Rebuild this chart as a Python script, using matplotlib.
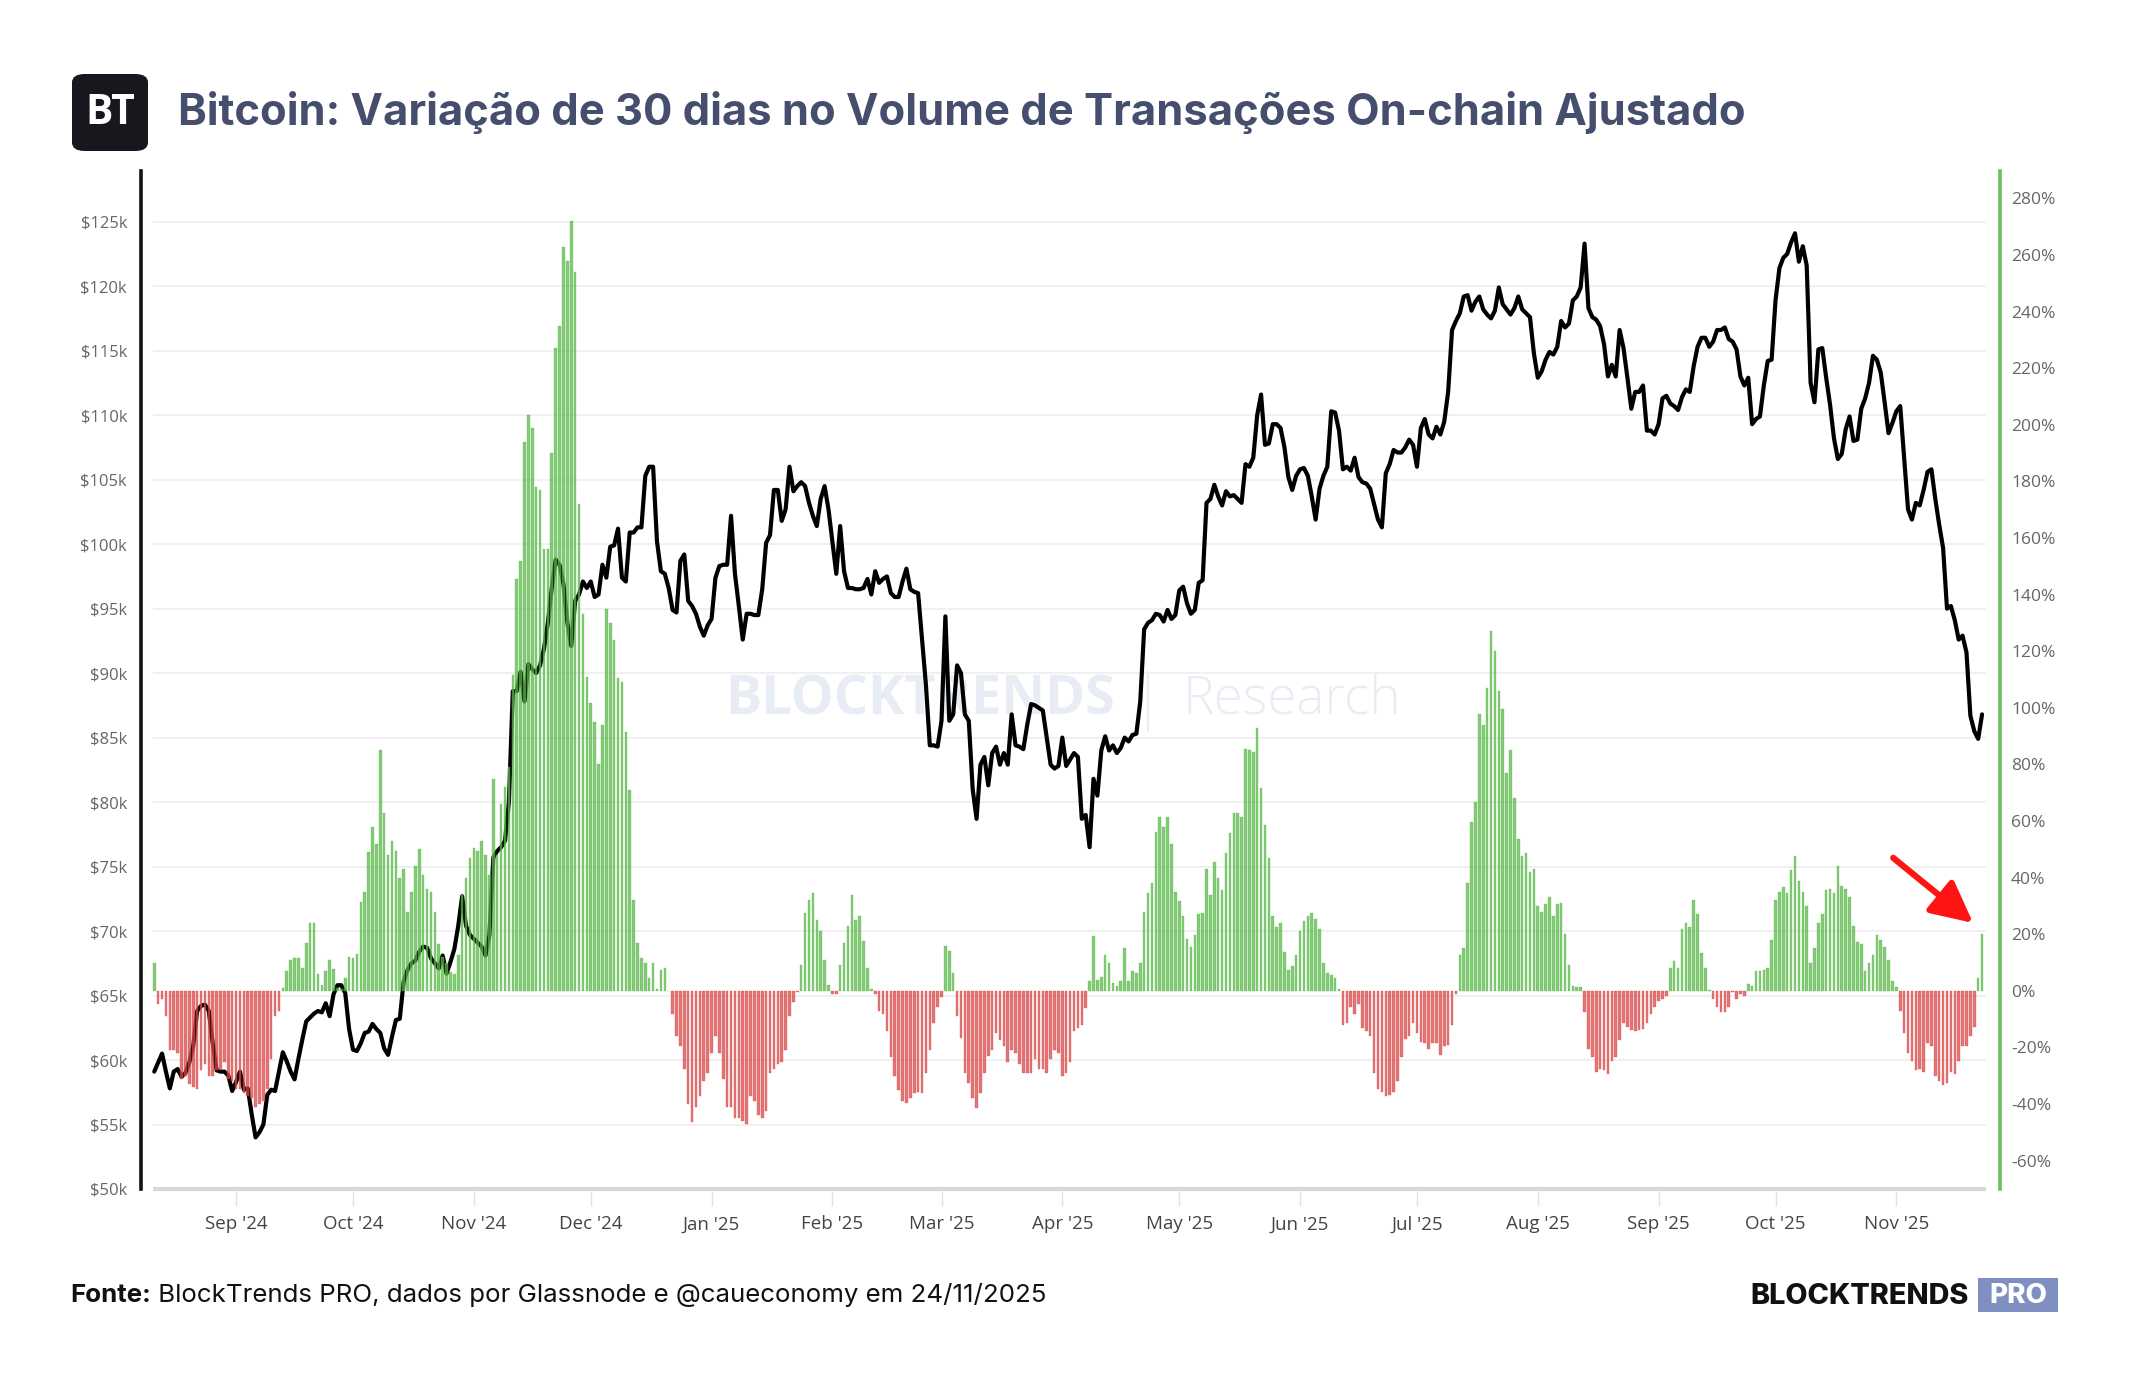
import numpy as np
import pandas as pd
import matplotlib
matplotlib.use("Agg")
import matplotlib.pyplot as plt
import matplotlib.dates as mdates
from matplotlib.patches import FancyBboxPatch, Rectangle
from matplotlib.ticker import FuncFormatter

# ---------------- data (daily, starting 2024-08-11) ----------------
START_DATE = "2024-08-11"

change_pct = [
    10,
    -4.6, -3, -9, -21, -21, -22, -31, -30, -33, -34, -34.5, -28, -26, -30, -30, -28, -28, -25, -31, -32,
    -34.5, -34.5, -36, -37, -38, -41, -40, -39, -34.5, -24, -9, -7,
    1, 7, 11, 11.5, 11.5, 8, 17, 24, 24, 6, 2, 7, 11, 7.6, 1, 0.5, 4.6, 12, 11.5, 13, 31.5, 35, 49, 58, 52,
    85, 63, 48, 53, 49.5, 40, 43, 28, 35, 44, 50, 41, 36, 35, 28, 16.5, 12, 10, 6.5,
    6, 12.6, 34, 40, 47, 50.6, 49.5, 53, 48, 41, 75, 48, 66, 72, 79, 111.5, 145.6, 152, 194, 203.5,
    199, 178, 177, 156, 156, 190, 227, 235, 263, 258, 272, 254, 172, 133, 111, 101.7, 95, 80, 94, 135,
    130, 124, 110.6, 109, 91.5, 71, 32, 17, 11.5, 9.7, 4.6, 9.7, 0.5, 7.4, 8, 0, -8, -16, -19.6, -27.6,
    -40, -46.5, -41, -37, -32, -29, -22, -16, -22, -31, -41, -41, -45, -45, -46, -47, -37, -39, -44,
    -45, -42.5, -29, -27.6, -26, -25, -21, -9, -4, -0.5, 9, 27.6, 32, 34.5, 25, 21, 11, 2, -1, -1,
    9, 17, 23, 34, 25, 26.5, 17.7, 8, 0.5, -1, -7, -8, -14, -23.5, -30, -35, -39, -39.6, -38, -36,
    -35.7, -36, -29, -21, -11.5, -5.8, -2.3, 16, 14, 6.4, -9, -16.6, -29, -32.7, -38, -41.4, -36, -29, -23, -21,
    -15, -17.3, -19.6, -25, -21, -22, -26, -29, -29, -29, -24, -27.6, -27.6, -29, -24, -21, -22, -30, -29, -25,
    -14, -13, -12, -6, 3.5, 19.5, 4, 5, 12.6, 9.7, 2.8, 1.8, 3.5, 15, 3.5, 7, 6.2, 9.7, 28, 34.5,
    38, 56, 61.6, 58, 61.4, 52, 35, 31.7, 26.5, 18.4, 15.6, 19.6, 27, 27.6, 43, 34, 45.5, 40, 35.7, 48.8,
    55.7, 63, 63, 61.4, 85.6, 85, 84.4, 93, 71.8, 58.7, 47, 26.5, 22.5, 24, 13.8, 7.4, 8.7, 12.6, 21, 24.8,
    26.5, 27.6, 25.3, 21.8, 9.7, 6.2, 5.5, 4.6, 0.5, -12, -11.5, -5.8, -8, -4.6, -13, -14, -16, -29, -34.5, -35.7,
    -37, -36.8, -35.7, -32, -23.5, -17, -16, -11.5, -15, -18, -18.4, -20.7, -18.4, -18.4, -22.5, -19.6, -19, -12,
    -1,
    12.6, 15, 38, 59.8, 66.7, 98, 94, 107, 127, 120, 105.8, 99.6, 77, 85, 68, 53.6, 47.6, 48.8, 42, 43,
    30, 28, 30.6, 33, 26.5, 30.6, 31, 20, 9.2, 1.8, 1.4, 1.2,
    -7.4, -20.7, -23.5, -28.8, -27.6, -28, -29.4, -24.8, -23.5, -17.3, -11.5, -12.6, -13.8, -14.3, -13.8,
    -13.3, -11.5, -8, -5.8, -3.5, -2.8, -1.8,
    8, 10.4, 8, 21.9, 24, 22.5,
    32, 27, 13.3, 8, 0.3, -2.8, -5.8, -7.6, -7.4, -5.8, -0.5, -2.8, -1.2, -1.8, 2.3, 1.8, 7, 7, 7.4, 8,
    18, 32, 35, 36.8, 34.5, 42.6, 47.8, 39, 35, 30, 10, 15, 24, 27, 35.7, 36, 34.5, 44, 37, 36,
    33, 23, 17.3, 16.6, 7, 9.7, 12.6, 19.6, 18, 15.6, 11, 3.5, 1.2,
    -7, -15, -21.9, -24.8, -28, -27.6, -28.8, -18.4, -19.6, -30, -32, -33.4, -32.7, -28.8, -29.4,
    -24.8, -19.6, -19.6, -16, -12.6, 4.6, 20,
]

price_k = [
    59.1, 59.8, 60.5, 59.1, 57.8, 59.1, 59.3, 58.7, 59.0, 59.8, 61.1, 63.8, 64.2, 64.3, 63.8, 61.3, 59.2, 59.1, 59.1, 58.8,
    57.6, 58.3, 59.1, 57.7, 57.8, 55.8, 54.0, 54.4, 55.0, 57.3, 57.7, 57.6, 59.1, 60.6, 59.9, 59.1, 58.5, 60.1, 61.6, 63.0,
    63.3, 63.6, 63.8, 63.7, 64.4, 63.4, 65.1, 65.8, 65.8, 65.2, 62.4, 60.8, 60.7, 61.3, 62.1, 62.2, 62.8, 62.4, 62.1, 60.9,
    60.4, 61.8, 63.1, 63.2, 66.1, 67.0, 67.5, 67.7, 68.4, 68.8, 68.7, 67.9, 67.5, 67.1, 68.1, 66.7, 67.6,
    68.6, 70.4, 72.7, 70.4, 69.7, 69.4, 69.1, 68.8, 68.1, 69.7, 75.7, 76.2, 76.5, 77.0, 80.0, 88.6, 88.6, 90.1, 87.8, 90.7,
    90.3, 90.0, 90.6, 91.9, 93.9, 96.6, 98.8, 98.4, 96.9, 93.9, 92.1, 95.6, 96.1, 97.1, 96.6, 97.1, 95.9, 96.1, 98.4, 97.4,
    99.8, 99.9, 101.2, 97.4, 97.1, 100.9, 100.9, 101.3, 101.3, 105.3, 106.0, 106.0, 100.2, 97.9, 97.7, 96.6, 94.9, 94.7, 98.7, 99.2,
    95.6, 95.2, 94.6, 93.6, 92.9, 93.7, 94.2, 97.4, 98.3, 98.4, 98.4, 102.2, 97.7, 95.2, 92.6, 94.6, 94.6, 94.5, 94.5,
    96.5, 100.1, 100.7, 104.2, 104.2, 101.8, 102.7, 106.0, 104.1, 104.5, 104.8, 104.5, 103.2, 102.2, 101.4, 103.5, 104.5, 102.7, 100.2, 97.7,
    101.4, 97.9, 96.6, 96.6, 96.5, 96.5, 96.6, 97.3, 96.1, 97.9, 97.0, 97.3, 97.5, 96.2, 95.9, 95.9, 97.1, 98.1, 96.5, 96.3,
    96.2, 92.6, 89.1, 84.4, 84.4, 84.3, 86.3, 94.4, 86.3, 86.8, 90.6, 90.0, 86.8, 86.3, 81.0, 78.7, 82.9, 83.5, 81.3, 83.8,
    84.3, 82.9, 83.8, 82.9, 86.8, 84.4, 84.3, 84.1, 86.0, 87.6, 87.5, 87.3, 87.1, 85.0, 82.9, 82.6, 82.8, 85.0, 82.8, 83.3,
    83.8, 83.5, 78.7, 79.0, 76.5, 81.8, 80.5, 84.0, 85.1, 84.0, 84.4, 83.8, 84.2, 85.0, 84.7, 85.2, 85.3, 87.8, 93.4, 93.9,
    94.1, 94.6, 94.5, 94.0, 94.9, 94.2, 94.5, 96.4, 96.7, 95.4, 94.6, 94.9, 97.0, 97.2, 103.2, 103.5, 104.6, 103.7, 103.0, 104.1,
    103.7, 103.8, 103.5, 103.2, 106.2, 106.0, 106.7, 110.0, 111.6, 107.7, 107.8, 109.3, 109.3, 109.0, 107.5, 105.2, 104.2, 105.3, 105.8, 105.9,
    105.3, 103.7, 101.9, 104.3, 105.3, 106.0, 110.3, 110.2, 108.8, 105.8, 106.0, 105.7, 106.7, 105.2, 104.8, 104.7, 104.3, 103.1, 101.9, 101.3,
    105.5, 106.2, 107.3, 107.1, 107.1, 107.5, 108.1, 107.7, 106.0, 109.0, 109.7, 108.5, 108.2, 109.1, 108.5, 109.5, 111.8, 116.6, 117.3, 117.9,
    119.2, 119.3, 118.1, 118.8, 119.2, 118.2, 117.8, 117.5, 118.1, 119.9, 118.6, 118.2, 117.8, 118.3, 119.2, 118.2, 117.9, 117.6, 114.8, 112.9,
    113.4, 114.3, 114.9, 114.7, 115.3, 117.3, 116.8, 117.1, 118.9, 119.2, 119.9, 123.3, 118.3, 117.6, 117.4, 116.9, 115.5, 113.0, 113.9, 113.0,
    116.6, 115.2, 112.9, 110.5, 111.8, 111.8, 112.3, 108.8, 108.8, 108.5, 109.3, 111.3, 111.5, 110.9, 110.7, 110.4, 111.4, 112.0, 111.8,
    113.8, 115.3, 116.0, 116.0, 115.3, 115.7, 116.6, 116.6, 116.8, 115.9, 115.7, 115.1, 113.0, 112.3, 112.9, 109.3, 109.7, 109.9, 112.3, 114.2,
    114.3, 118.9, 121.4, 122.2, 122.5, 123.4, 124.1, 121.9, 123.1, 121.6, 112.5, 111.0, 115.1, 115.2, 112.9, 110.8, 108.2, 106.6, 107.0, 108.9,
    109.9, 108.0, 108.1, 110.5, 111.3, 112.5, 114.6, 114.3, 113.3, 111.0, 108.6, 109.4, 110.3, 110.7, 106.7, 102.7, 101.9, 103.2, 103.0, 104.2,
    105.6, 105.8, 103.5, 101.5, 99.7, 95.0, 95.2, 94.1, 92.6, 92.9, 91.6, 86.7, 85.5, 84.9, 86.8,
]

price_ticks_k = list(range(50, 126, 5))
pct_ticks = list(range(-60, 281, 20))

TITLE = "Bitcoin: Variação de 30 dias no Volume de Transações On-chain Ajustado"
SOURCE_BOLD = "Fonte:"
SOURCE_REST = " BlockTrends PRO, dados por Glassnode e @caueconomy em 24/11/2025"

# ---------------- figure ----------------
plt.rcParams["font.family"] = ["Open Sans", "DejaVu Sans"]
W, H = 2144, 1400
fig = plt.figure(figsize=(W / 100, H / 100), dpi=100)
fig.patch.set_facecolor("white")


def fx(px):
    return px / W


def fy(py):
    return 1 - py / H


ax1 = fig.add_axes([fx(141), fy(1189), (2000 - 141) / W, (1189 - 171) / H])
ax2 = ax1.twinx()

n = len(price_k)
dates = pd.date_range(START_DATE, periods=n, freq="D")
xd = mdates.date2num(dates)
price = np.array(price_k) * 1000
chg = np.array(change_pct[:n], dtype=float)

# price line (underneath the translucent bars)
ax1.plot(xd, price, color="black", lw=3.0, zorder=3, solid_joinstyle="round", solid_capstyle="round")

# bars
green, red = "#5ab84a", "#d94646"
cols = [green if v >= 0 else red for v in chg]
ax2.bar(xd, chg, width=0.66, color=cols, alpha=0.74, edgecolor=cols, linewidth=0.3, zorder=2)

# limits
ax1.set_xlim(xd[0] - 3.4, xd[0] + 473.6)
ax1.set_ylim(50000, 128930)
ax2.set_ylim(-70.0, 289.7)

# gridlines and baseline
x_g0, x_g1 = xd[0] - 0.2, xd[-1] + 1.0
ax1.hlines([k * 1000 for k in price_ticks_k[1:]], x_g0, x_g1, color="#ededed", lw=1.2, zorder=0.5)
ax1.hlines(50000, x_g0, x_g1, color="#d8d8d8", lw=3, zorder=1, clip_on=False)

# ticks
ax1.set_yticks([k * 1000 for k in price_ticks_k])
ax1.yaxis.set_major_formatter(FuncFormatter(lambda v, p: f"${int(round(v / 1000))}k"))
ax1.tick_params(axis="y", length=0, pad=10, labelsize=12, labelcolor="#666666")
ax2.set_yticks(pct_ticks)
ax2.yaxis.set_major_formatter(FuncFormatter(lambda v, p: f"{int(round(v))}%"))
ax2.tick_params(axis="y", length=0, pad=8, labelsize=12.5, labelcolor="#666666")

ax1.xaxis.set_major_locator(mdates.MonthLocator())
ax1.xaxis.set_major_formatter(mdates.DateFormatter("%b '%y"))
ax1.tick_params(axis="x", length=12, width=1, color="#e2e2e2", pad=7, labelsize=13.5, labelcolor="#444444")

for s in ["top", "right", "bottom"]:
    ax1.spines[s].set_visible(False)
ax1.spines["left"].set_color("#111111")
ax1.spines["left"].set_linewidth(2.6)
for s in ["top", "left", "bottom"]:
    ax2.spines[s].set_visible(False)
ax2.spines["right"].set_color("#6cc15f")
ax2.spines["right"].set_linewidth(2.6)

# red arrow pointing to the latest bar
ax2.annotate("", xy=(xd[0] + 466.7, 24), xytext=(xd[0] + 446.2, 47),
             arrowprops=dict(arrowstyle="-|>,head_length=1.8,head_width=0.9", color="#ff1414",
                             lw=4.5, shrinkA=0, shrinkB=0, mutation_scale=14), zorder=6)

renderer = fig.canvas.get_renderer()


def fit(t, target_w):
    w = t.get_window_extent(renderer).width
    t.set_fontsize(t.get_fontsize() * target_w / w)
    return t


# watermark
wm_color = "#e8edf5"
t = ax1.text(fx(725), fy(701), "BLOCKTRENDS", transform=fig.transFigure, ha="left", va="center",
             color=wm_color, fontweight="bold", fontsize=30, zorder=1)
fit(t, 389)
ax1.plot([fx(1148), fx(1148)], [fy(672), fy(730)], transform=fig.transFigure, color=wm_color, lw=1.6, zorder=1)
t = ax1.text(fx(1183), fy(701), "Research", transform=fig.transFigure, ha="left", va="center",
             color=wm_color, fontweight="light", fontsize=30, zorder=1)
fit(t, 218)

# BT logo
fig.patches.append(FancyBboxPatch((fx(72), fy(151)), fx(76), (151 - 74) / H,
                                  boxstyle="round,pad=0,rounding_size=0.006",
                                  transform=fig.transFigure, facecolor="#16181e", edgecolor="none"))
t = fig.text(fx(110), fy(113), "BT", ha="center", va="center", color="white", fontweight="bold", fontsize=26)
fit(t, 50)

# title
t = fig.text(fx(178), fy(112), TITLE, ha="left", va="center", color="#464e6e",
             fontweight="bold", fontsize=30, family=["Inter", "Open Sans", "DejaVu Sans"])
fit(t, 1565)

# source
t1 = fig.text(fx(70), fy(1295), SOURCE_BOLD, ha="left", va="center", color="#111111",
              fontweight="bold", fontsize=18, family=["Inter", "Open Sans", "DejaVu Sans"])
t2 = fig.text(fx(70), fy(1295), SOURCE_REST, ha="left", va="center", color="#111111",
              fontsize=18, family=["Inter", "Open Sans", "DejaVu Sans"])
w1 = t1.get_window_extent(renderer).width
w2 = t2.get_window_extent(renderer).width
sc = 976 / (w1 + w2)
t1.set_fontsize(18 * sc)
t2.set_fontsize(18 * sc)
w1 = t1.get_window_extent(renderer).width
t2.set_x(fx(70 + w1))

# BLOCKTRENDS PRO logo
t = fig.text(fx(1750), fy(1296), "BLOCKTRENDS", ha="left", va="center", color="#111111",
             fontweight="heavy", fontsize=20, family=["Inter", "Open Sans", "DejaVu Sans"])
fit(t, 219)
fig.patches.append(Rectangle((fx(1978), fy(1312)), fx(80), 34 / H, transform=fig.transFigure,
                             facecolor="#7f8fc2", edgecolor="none"))
t = fig.text(fx(2018), fy(1296), "PRO", ha="center", va="center", color="white",
             fontweight="heavy", fontsize=20, family=["Inter", "Open Sans", "DejaVu Sans"])
fit(t, 58)

fig.savefig("out.png", dpi=100, facecolor="white")
